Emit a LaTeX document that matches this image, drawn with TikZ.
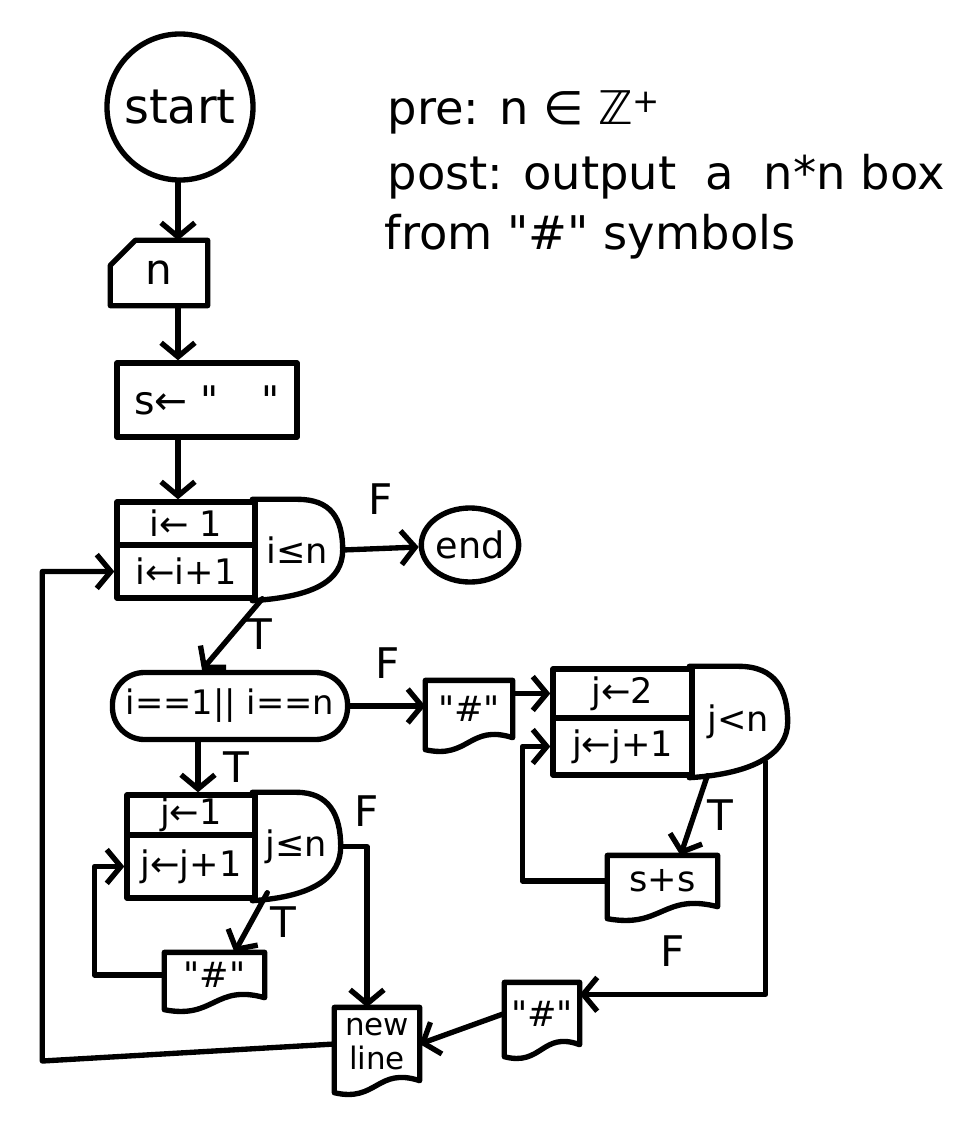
\documentclass[tikz,border=0pt]{standalone}
\usepackage{fontspec}
\setmainfont{DejaVu Sans}[Ligatures=TeXOff]
\usepackage{tikz}
\usetikzlibrary{arrows.meta,calc,shapes.geometric}

\newcommand\startfont{\fontsize{34}{40}\selectfont}
\newcommand\cellfont{\fontsize{25}{30}\selectfont}
\newcommand\notefont{\fontsize{33}{40}\selectfont}
\newcommand\tagfont{\fontsize{30}{36}\selectfont}
\newcommand\dq{\symbol{34}}

% output box with a wavy bottom
\newcommand\docbox[1]{%
  \draw (#1.north west) -- (#1.north east) -- (#1.south east)
    .. controls ($(#1.south)+(0,-14)$) and ($(#1.south)+(0,22)$) .. ($(#1.south west)+(0,12)$) -- cycle;}
% round test part of a loop box
\newcommand\loopcap[1]{%
  \draw (#1.north west) -- (#1.north)
    .. controls ($(#1.north east)+(-12,0)$) and ($(#1.east)+(0,-32)$) .. (#1.east)
    .. controls ($(#1.east)+(0,30)$) and ($(#1.south)+(18,-4)$) .. (#1.south west);}

\begin{document}
\begin{tikzpicture}[x=0.025cm, y=-0.025cm, line width=3.8pt, line cap=round, line join=round,
    flow/.style={-{Straight Barb[length=10pt,width=24pt]}},
    cell/.style={draw, inner sep=0pt, font=\cellfont},
    hole/.style={inner sep=0pt, font=\cellfont},
    tag/.style={inner sep=0pt, font=\tagfont},
    note/.style={inner sep=0pt, font=\notefont, anchor=base west}]
  \useasboundingbox (0,0) rectangle (979,1129);

  % spec
  \node[note] (pre) at (385,125) {pre: n ∈ ℤ\textsuperscript{+}};
  \node[note] (post) at (385,190) {post: output\ \ a\ \ n*n box};
  \node[note] (from) at (382,250) {from \dq\#\dq\ symbols};

  % input
  \coordinate (spine) at (178,0);
  \node[draw, circle, minimum size=3.65cm, inner sep=0pt, font=\startfont] (start) at (180,107) {start};
  \node[hole, minimum width=2.3cm, minimum height=1.5cm, font=\fontsize{30}{36}\selectfont] (readn) at (159,273) {n};
  \draw (readn.south west) -- ($(readn.north west)+(0,25)$) -- ($(readn.north west)+(25,0)$)
    -- (readn.north east) -- (readn.south east) -- cycle;
  \node[cell, minimum width=4.5cm, minimum height=1.85cm, font=\fontsize{28}{34}\selectfont] (sinit) at (207,400) {s← \dq\hspace{1.1em}\dq};

  % loop over rows
  \node[cell, minimum width=3.45cm, minimum height=1.075cm] (iinit) at (186,523.5) {i← 1};
  \node[cell, minimum width=3.45cm, minimum height=1.325cm] (iinc) at (186,571.5) {i←i+1};
  \node[hole, minimum width=2.125cm, minimum height=2.4cm] (icond) at (297.5,550) {i≤n};
  \loopcap{icond}
  \node[draw, ellipse, minimum width=2.375cm, minimum height=1.85cm, inner sep=0pt, font=\fontsize{26}{30}\selectfont] (stop) at (470,545) {end};

  \node[draw, rounded corners=0.8cm, minimum width=5.875cm, minimum height=1.675cm, inner sep=0pt,
    font=\fontsize{24}{28}\selectfont] (rowtest) at (230,706) {i==1|| i==n};

  % first and last row
  \node[cell, minimum width=3.2cm, minimum height=1.0cm] (fullinit) at (191,815) {j←1};
  \node[cell, minimum width=3.2cm, minimum height=1.575cm] (fullinc) at (191,866.5) {j←j+1};
  \node[hole, minimum width=2.075cm, minimum height=2.575cm] (fullcond) at (296.5,846.5) {j≤n};
  \loopcap{fullcond}
  \node[hole, minimum width=2.375cm, minimum height=1.0cm] (fullhash) at (214.5,975) {\dq\#\dq};
  \docbox{fullhash}

  % middle rows
  \node[hole, minimum width=2.05cm, minimum height=1.3cm] (midhead) at (469,709) {\dq\#\dq};
  \docbox{midhead}
  \node[cell, minimum width=3.475cm, minimum height=1.225cm] (midinit) at (622.5,693.5) {j←2};
  \node[cell, minimum width=3.475cm, minimum height=1.425cm] (midinc) at (622.5,746.5) {j←j+1};
  \node[hole, minimum width=2.325cm, minimum height=2.65cm] (midcond) at (738.5,722) {j<n};
  \loopcap{midcond}
  \node[hole, minimum width=2.625cm, minimum height=1.15cm] (midsum) at (662.5,881) {s+s};
  \docbox{midsum}
  \node[hole, minimum width=1.75cm, minimum height=1.425cm] (midtail) at (542,1013.5) {\dq\#\dq};
  \docbox{midtail}

  \node[hole, minimum width=2.0cm, minimum height=1.7cm, align=center, font=\fontsize{22}{24}\selectfont] (newline) at (377,1044) {new\\line};
  \docbox{newline}

  % connectors
  \draw[flow] (start.south -| spine) -- (readn.north -| spine);
  \draw[flow] (readn.south -| spine) -- (sinit.north -| spine);
  \draw[flow] (sinit.south -| spine) -- (iinit.north -| spine);
  \draw[flow] (icond.east) -- (stop) node[tag, midway, above=22pt] {F};
  \draw[flow] ($(icond.south west)+(10,-2)$) -- ($(rowtest.north)+(-28,0)$) node[tag, midway, right=8pt] {T};
  \draw[flow] (rowtest.east) -- (midhead.west |- rowtest.east) node[tag, midway, above=18pt] {F};
  \draw[flow] (midhead.east |- midinit.west) -- (midinit.west);
  \draw[flow] ($(midcond.south west)+(18,-2)$) -- ($(midsum.north)+(18,0)$) node[tag, midway, right=8pt] {T};
  \draw[flow] (midsum.west) -- ++(-85,0) |- (midinc.west);
  \draw[flow] ($(midcond.south east)+(-22,-16)$) |- ($(midtail.north east)+(0,12)$) node[tag, pos=0.75, above=18pt] {F};
  \draw[flow] (midtail.west) -- (newline.east);
  \draw[flow] ($(rowtest.south)+(-32,0)$) -- ($(fullinit.north)+(7,0)$) node[tag, midway, right=16pt] {T};
  \draw[flow] ($(fullcond.south west)+(15,-8)$) -- ($(fullhash.north)+(20,0)$) node[tag, midway, right=12pt] {T};
  \draw[flow] (fullhash.west) -- ++(-70,0) |- (fullinc.west);
  \draw[flow] (fullcond.east) -| ($(newline.north)+(-10,0)$) node[tag, pos=0.5, above=12pt] {F};
  \draw[flow] (newline.west) -- ++(-292,17) |- (iinc.west);
\end{tikzpicture}
\end{document}
